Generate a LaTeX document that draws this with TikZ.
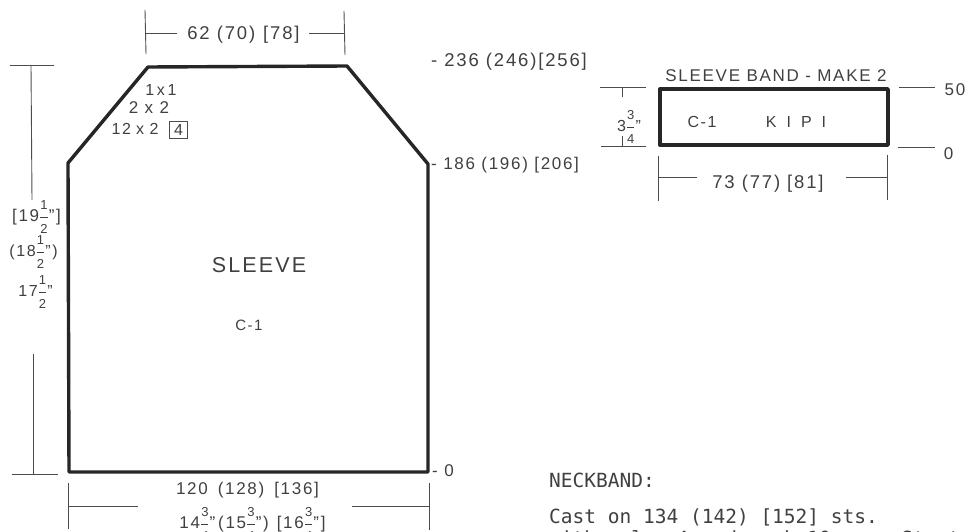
\documentclass[tikz,border=0pt]{standalone}
\usepackage{fontspec}
\setmainfont[LetterSpace=10]{Liberation Sans}
\setmonofont{DejaVu Sans Mono}
\newcommand{\frc}[2]{$\displaystyle{\mbox{\fontsize{13}{13}\selectfont #1}\over\mbox{\fontsize{13}{13}\selectfont #2}}$}
\tikzset{
 x=1pt,y=-1pt,
 heavy/.style={line width=3.4pt,draw=black!85,line join=round},
 thin line/.style={line width=0.9pt,draw=black!70},
 lab/.style={inner sep=0pt,text=black!75,font=\fontsize{18.5}{20}\selectfont},
 mid/.style={lab,font=\fontsize{17}{19}\selectfont},
 low/.style={lab,font=\fontsize{16}{18}\selectfont},
 big/.style={lab,font=\fontsize{21.5}{24}\selectfont},
 mono/.style={inner sep=0pt,anchor=base west,text=black!75,font=\ttfamily\fontsize{19.5}{22}\selectfont},
}
\begin{document}
\begin{tikzpicture}
\useasboundingbox (0,0) rectangle (969,532);
\clip (0,0) rectangle (969,532);
% sleeve
\coordinate (a) at (69,472);\coordinate (b) at (68,163);\coordinate (c) at (148,67);
\coordinate (d) at (347,66);\coordinate (e) at (428,164);\coordinate (f) at (428,472);
\draw[heavy] (a)--(b)--(c)--(d)--(e)--(f)--cycle;
% top dim
\coordinate (t1a) at (145,10);\coordinate (t1b) at (146,54);\coordinate (t2a) at (344,11);\coordinate (t2b) at (345,55);
\coordinate (t3) at (177,33);\coordinate (t4) at (309,33);\coordinate (t5) at (146,33);\coordinate (t6) at (345,33);
\draw[thin line] (t1a)--(t1b);\draw[thin line] (t2a)--(t2b);
\draw[thin line] (t5)--(t3);\draw[thin line] (t4)--(t6);
\node[lab] (ttop) at (243.5,35) {62 (70)\hspace{8pt}[78]};
% left dim
\coordinate (l1) at (10,65);\coordinate (l2) at (54,65);\coordinate (l3) at (31,65);\coordinate (l4) at (32,200);
\coordinate (l5) at (12,474);\coordinate (l6) at (58,474);\coordinate (l7) at (33,354);\coordinate (l8) at (33,474);
\draw[thin line] (l1)--(l2);\draw[thin line] (l3)--(l4);\draw[thin line] (l5)--(l6);\draw[thin line] (l7)--(l8);
\node[mid] (h1) at (36.5,217) {[19\frc{1}{2}"]};
\node[low] (h2) at (33.5,252) {(18\frc{1}{2}")};
\node[low] (h3) at (35.5,292) {17\frc{1}{2}"};
% shaping
\node[low] (s1) at (161,90) {1\,x\,1};
\node[mid] (s2) at (149,108) {2 x 2};
\node[low] (s3) at (135,129) {12\,\,x\,\,2};
\node[low,draw=black!70,line width=0.7pt,minimum width=18pt,minimum height=17pt] (s4) at (178.5,129.5) {4};
% center
\node[big] (title) at (259,265) {SLEEVE};
\node[lab,font=\fontsize{15}{17}\selectfont] (c1) at (249,325) {C-1};
% right labels
\node[lab,anchor=west] (r1) at (431,62) {- 236 (246)[256]};
\node[mid,anchor=west] (r2) at (431,165) {- 186 (196) [206]};
\node[mid,anchor=west] (r3) at (432,471) {- 0};
% bottom dim
\coordinate (b1) at (68,483);\coordinate (b2) at (68,529);\coordinate (b3) at (429,483);\coordinate (b4) at (429,530);
\coordinate (b5) at (68,506);\coordinate (b6) at (138,506);\coordinate (b7) at (352,506);\coordinate (b8) at (429,506);
\draw[thin line] (b1)--(b2);\draw[thin line] (b3)--(b4);\draw[thin line] (b5)--(b6);\draw[thin line] (b7)--(b8);
\node[mid] (bt1) at (247.5,490) {120\hspace{10pt}(128)\hspace{10pt}[136]};
\node[mid] (bt2) at (252.5,524) {14\frc{3}{4}"\,(15\frc{3}{4}")\hspace{8pt}[16\frc{3}{4}"]};
% band
\coordinate (g1) at (660,89);\coordinate (g2) at (888,89);\coordinate (g3) at (888,145);\coordinate (g4) at (660,145);
\draw[heavy] (g1)--(g2)--(g3)--(g4)--cycle;
\node[mid] (bandt) at (776,76) {SLEEVE BAND - MAKE 2};
\node[low] (c2) at (702,122) {C-1};
\node[low] (k) at (796,122) {K\hspace{10pt}I\hspace{10pt}P\hspace{10pt}I};
\node[low] (h4) at (629,127) {3\frc{3}{4}"};
\coordinate (m1) at (600,87);\coordinate (m2) at (646,87);\coordinate (m3) at (622,87);\coordinate (m4) at (622,97);
\coordinate (m5) at (601,146);\coordinate (m6) at (646,146);\coordinate (m7) at (622,136);\coordinate (m8) at (622,146);
\draw[thin line] (m1)--(m2);\draw[thin line] (m3)--(m4);\draw[thin line] (m5)--(m6);\draw[thin line] (m7)--(m8);
\coordinate (n1) at (899,87);\coordinate (n2) at (935,87);\coordinate (n3) at (898,147);\coordinate (n4) at (935,147);
\draw[thin line] (n1)--(n2);\draw[thin line] (n3)--(n4);
\node[mid] (n50) at (955,90) {50};
\node[mid] (n0) at (948.5,154) {0};
\coordinate (p1) at (658,156);\coordinate (p2) at (658,201);\coordinate (p3) at (887,155);\coordinate (p4) at (887,200);
\coordinate (p5) at (658,177);\coordinate (p6) at (697,177);\coordinate (p7) at (846,177);\coordinate (p8) at (887,177);
\draw[thin line] (p1)--(p2);\draw[thin line] (p3)--(p4);\draw[thin line] (p5)--(p6);\draw[thin line] (p7)--(p8);
\node[lab] (pt) at (768,184) {73 (77) [81]};
% text
\node[mono] (nb) at (549,487) {NECKBAND:};
\node[mono] (ca) at (549,523) {Cast on 134 (142) [152] sts.};
\node[mono] (wi) at (549,545) {with color A and work 10 rows St st};
\end{tikzpicture}
\end{document}
